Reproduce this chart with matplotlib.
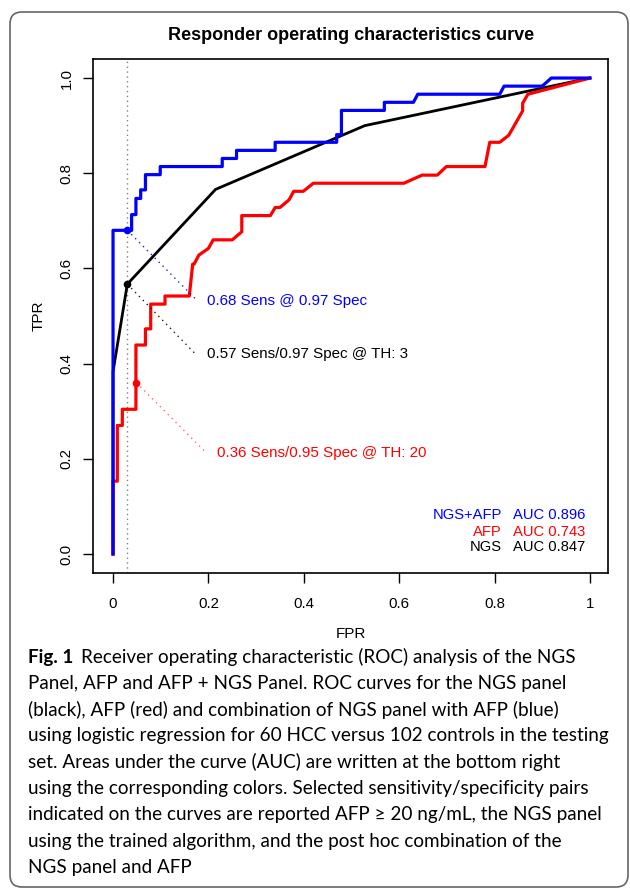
import matplotlib
matplotlib.use("Agg")
import matplotlib.pyplot as plt
from matplotlib.patches import FancyBboxPatch
from matplotlib.transforms import IdentityTransform

plt.rcParams["font.family"] = ["Liberation Sans", "DejaVu Sans"]

# ROC curves (FPR, TPR)
combo_fpr = [0, 0, 0.039, 0.039, 0.048, 0.048, 0.058, 0.058, 0.068, 0.068, 0.099, 0.099,
             0.229, 0.229, 0.259, 0.259, 0.340, 0.340, 0.469, 0.469, 0.479, 0.479,
             0.569, 0.569, 0.630, 0.639, 0.811, 0.820, 0.900, 0.919, 1.0]
combo_tpr = [0, 0.68, 0.68, 0.713, 0.713, 0.747, 0.747, 0.765, 0.765, 0.797, 0.797, 0.814,
             0.814, 0.831, 0.831, 0.848, 0.848, 0.865, 0.865, 0.881, 0.881, 0.932,
             0.932, 0.949, 0.949, 0.966, 0.966, 0.983, 0.983, 1.0, 1.0]

afp_fpr = [0, 0, 0.009, 0.009, 0.0195, 0.0195, 0.048, 0.048, 0.068, 0.068, 0.079, 0.079,
           0.109, 0.109, 0.160, 0.167, 0.170, 0.180, 0.200, 0.210, 0.250, 0.270, 0.270,
           0.330, 0.340, 0.350, 0.369, 0.379, 0.399, 0.420, 0.610, 0.648, 0.680, 0.699,
           0.780, 0.790, 0.811, 0.830, 0.859, 0.859, 0.870, 1.0]
afp_tpr = [0, 0.153, 0.153, 0.27, 0.27, 0.304, 0.304, 0.439, 0.439, 0.473, 0.473, 0.525,
           0.525, 0.542, 0.542, 0.609, 0.609, 0.628, 0.642, 0.660, 0.660, 0.677, 0.711,
           0.711, 0.728, 0.728, 0.744, 0.762, 0.762, 0.779, 0.779, 0.796, 0.796, 0.814,
           0.814, 0.865, 0.865, 0.880, 0.931, 0.947, 0.966, 1.0]

ngs_fpr = [0, 0, 0.03, 0.215, 0.528, 1.0]
ngs_tpr = [0, 0.383, 0.567, 0.766, 0.900, 1.0]

# selected operating points
point_fpr = [0.03, 0.03, 0.049]
point_tpr = [0.68, 0.567, 0.36]
point_labels = ["0.68 Sens @ 0.97 Spec", "0.57 Sens/0.97 Spec @ TH: 3",
                "0.36 Sens/0.95 Spec @ TH: 20"]
point_colors = ["blue", "black", "red"]

auc_names = ["NGS+AFP", "AFP", "NGS"]
auc_values = [0.896, 0.743, 0.847]
auc_colors = ["blue", "red", "black"]

x_ticks = [0, 0.2, 0.4, 0.6, 0.8, 1]
x_ticklabels = ["0", "0.2", "0.4", "0.6", "0.8", "1"]
y_ticks = [0.0, 0.2, 0.4, 0.6, 0.8, 1.0]
y_ticklabels = ["0.0", "0.2", "0.4", "0.6", "0.8", "1.0"]

caption_lines = [
    "Receiver operating characteristic (ROC) analysis of the NGS",
    "Panel, AFP and AFP + NGS Panel. ROC curves for the NGS panel",
    "(black), AFP (red) and combination of NGS panel with AFP (blue)",
    "using logistic regression for 60 HCC versus 102 controls in the testing",
    "set. Areas under the curve (AUC) are written at the bottom right",
    "using the corresponding colors. Selected sensitivity/specificity pairs",
    "indicated on the curves are reported AFP \u2265 20 ng/mL, the NGS panel",
    "using the trained algorithm, and the post hoc combination of the",
    "NGS panel and AFP",
]

W, H = 630, 889
fig = plt.figure(figsize=(W / 100, H / 100), dpi=100)
ax = fig.add_axes([93 / W, 1 - 573 / H, (608 - 93) / W, (573 - 59) / H])

ax.axvline(0.03, color="gray", ls=(0, (1, 2.5)), lw=1)
ax.plot(ngs_fpr, ngs_tpr, color="black", lw=2.0, solid_joinstyle="miter")
ax.plot(afp_fpr, afp_tpr, color="red", lw=2.3)
ax.plot(combo_fpr, combo_tpr, color="blue", lw=2.3)

# annotation lines and text
line_ends = [(0.175, 0.534), (0.175, 0.418), (0.195, 0.213)]
text_pos = [(0.197, 0.531), (0.197, 0.42), (0.218, 0.212)]
for i in range(3):
    ax.plot([point_fpr[i], line_ends[i][0]], [point_tpr[i], line_ends[i][1]],
            color=point_colors[i], ls=(0, (1, 3)), lw=1,
            alpha=0.6 if point_colors[i] == "red" else 0.9)
    ax.plot(point_fpr[i], point_tpr[i], "o", color=point_colors[i], ms=4.5)
    ax.text(text_pos[i][0], text_pos[i][1], point_labels[i], color=point_colors[i],
            fontsize=10.9, va="center", ha="left")

auc_y = [0.082, 0.047, 0.015]
for i in range(3):
    ax.text(0.816, auc_y[i], auc_names[i], color=auc_colors[i], fontsize=10.6,
            ha="right", va="center")
    ax.text(0.838, auc_y[i], "AUC %.3f" % auc_values[i], color=auc_colors[i],
            fontsize=10.6, ha="left", va="center")

ax.set_xlim(-0.042, 1.038)
ax.set_ylim(-0.04, 1.04)
ax.set_xticks(x_ticks)
ax.set_xticklabels(x_ticklabels)
ax.set_yticks(y_ticks)
ax.set_yticklabels(y_ticklabels, rotation=90, va="center")
ax.tick_params(direction="out", length=7, width=1, labelsize=10.8)
ax.tick_params(axis="x", pad=10)
ax.tick_params(axis="y", pad=7)
for s in ax.spines.values():
    s.set_linewidth(1.2)
ax.set_xlabel("FPR", fontsize=11, labelpad=12)
ax.set_ylabel("TPR", fontsize=11, labelpad=10)

fig.text(351 / W, 1 - 35 / H, "Responder operating characteristics curve",
         fontsize=13, fontweight="bold", ha="center", va="center")

# caption
cap_font = ["Lato", "DejaVu Sans"]
cap_size = 13.6
x0 = 28 / W
y_first = 657
step = 26.3
bold = fig.text(x0, 1 - y_first / H, "Fig. 1", fontsize=cap_size, fontweight="bold",
                family=cap_font, ha="left", va="center")
renderer = fig.canvas.get_renderer()
bb = bold.get_window_extent(renderer)
fig.text(bb.x1 / W + 8 / W, 1 - y_first / H, caption_lines[0], fontsize=cap_size,
         family=cap_font, ha="left", va="center")
for i, line in enumerate(caption_lines[1:], start=1):
    fig.text(x0, 1 - (y_first + i * step) / H, line, fontsize=cap_size,
             family=cap_font, ha="left", va="center")

# rounded frame around the figure
frame = FancyBboxPatch((10, 2), 618, 875, boxstyle="round,pad=0,rounding_size=12",
                       transform=IdentityTransform(), fc="none", ec="#666666", lw=1.2)
fig.patches.append(frame)

fig.savefig("out.png", dpi=100)
